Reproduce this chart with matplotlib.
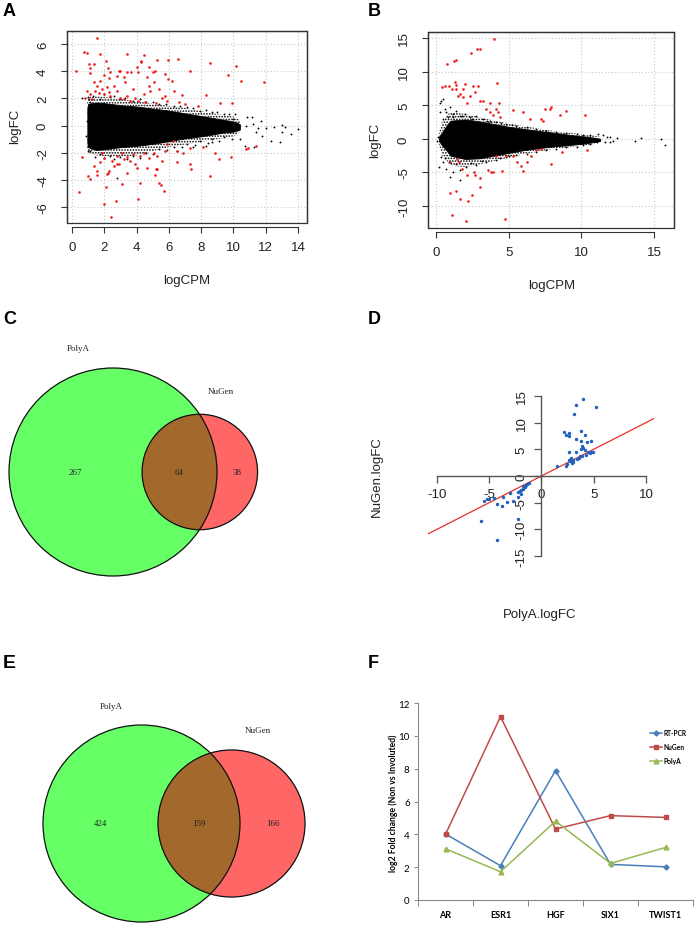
import numpy as np
import matplotlib
matplotlib.use("Agg")
import matplotlib.pyplot as plt
from matplotlib.patches import Circle, Rectangle

plt.rcParams['font.family'] = ['Liberation Sans', 'DejaVu Sans']
plt.rcParams['axes.unicode_minus'] = False
plt.rcParams['hatch.linewidth'] = 0.8

# ---------------- DATA ----------------
# Panel A (MA plot, PolyA): dense core envelope of non-DE genes (solid) and speckled fringe
a_core_x = [0.95, 1.0, 1.5, 2, 3, 4, 5, 6, 7, 8, 8.5, 9, 9.5, 10, 10.4]
a_core_hi = [1.3, 1.6, 1.7, 1.65, 1.5, 1.4, 1.25, 1.1, 0.9, 0.7, 0.6, 0.5, 0.4, 0.3, 0.1]
a_core_lo = [-1.3, -1.6, -1.8, -1.75, -1.6, -1.5, -1.35, -1.15, -0.95, -0.8, -0.7, -0.6, -0.5, -0.45, -0.3]
a_fringe_hi = [1.8, 2.1, 2.15, 2.1, 1.95, 1.8, 1.6, 1.45, 1.3, 1.05, 0.95, 0.85, 0.75, 0.65, 0.4]
a_fringe_lo = [-1.8, -2.0, -2.2, -2.25, -2.3, -2.2, -1.9, -1.6, -1.4, -1.2, -1.1, -1.0, -0.9, -0.8, -0.5]
a_black_pts = [(10.8, -0.02), (11.2, 0.1), (11.5, -0.15), (12.0, -0.15), (12.5, -0.1), (13.0, 0.02),
               (13.2, -0.1), (14.0, -0.27), (12.9, -1.25), (13.55, -0.64), (13.0, -0.5), (12.35, -1.13),
               (11.8, -0.76), (11.4, -0.5), (10.7, -1.5), (11.3, -1.55), (10.85, 0.66), (10.2, 0.17),
               (11.15, 0.66), (11.7, 0.34), (10.0, 0.47), (9.8, -0.5), (10.4, -1.0), (10.1, 0.84),
               (0.6, 2.0), (1.07, 1.94), (1.11, 1.7), (0.95, 0.34), (0.87, -0.76), (1.0, -1.5), (1.1, -1.87),
               (2.76, -3.9), (1.73, 1.94), (2.35, 2.07), (2.97, 1.94), (3.8, 1.82), (4.6, 1.7), (5.4, 1.57),
               (6.3, 1.45), (7.1, 1.33), (7.9, 1.08), (8.7, 0.96), (9.4, 0.84), (1.73, -2.1), (2.35, -2.24),
               (2.97, -2.29), (3.8, -2.24), (4.6, -2.0), (5.4, -1.75), (6.3, -1.55), (7.1, -1.38),
               (7.9, -1.13), (8.7, -0.96), (9.4, -0.81), (8.7, -1.25), (8.3, -1.5), (7.5, -1.6), (6.5, -1.87),
               (1.3, 2.2), (2.0, 2.3), (2.6, 2.2), (3.3, 2.05), (4.2, 1.95), (5.0, 1.75), (5.8, 1.6),
               (6.7, 1.45), (7.5, 1.3), (8.3, 1.15), (9.0, 1.0), (9.7, 0.85), (1.4, -2.3), (2.0, -2.4),
               (2.6, -2.5), (3.4, -2.45), (4.2, -2.4), (5.0, -2.1), (5.9, -1.8), (6.8, -1.6), (7.6, -1.45),
               (8.4, -1.3), (9.1, -1.15), (9.9, -1.0), (0.97, 1.0), (0.97, -1.0), (1.0, 2.1), (1.0, -1.9)]
a_red_pts = [(1.53, 6.44), (0.74, 5.4), (0.95, 5.35), (0.27, 3.98), (1.75, 5.26), (3.38, 5.26), (4.45, 5.2),
             (2.1, 4.77), (4.25, 4.75), (5.28, 4.84), (5.96, 4.84), (6.58, 4.9), (8.54, 4.6), (10.19, 4.4),
             (1.03, 4.52), (1.34, 4.52), (1.13, 4.2), (1.09, 3.9), (2.22, 4.2), (2.34, 3.95), (2.0, 3.7),
             (2.27, 3.5), (2.89, 4.03), (3.0, 4.03), (3.4, 3.91), (3.2, 3.59), (3.65, 3.96), (4.02, 4.28),
             (4.12, 3.96), (4.27, 4.69), (4.64, 3.54), (4.8, 4.28), (5.01, 3.91), (5.17, 4.03), (5.79, 3.83),
             (5.94, 3.42), (6.18, 3.29), (6.8, 2.24), (7.32, 3.98), (9.65, 3.74), (10.5, 3.29), (11.9, 3.24),
             (8.3, 2.24), (9.17, 1.65), (9.9, 1.65), (7.8, 1.45), (1.34, 3.17), (1.55, 2.92), (1.75, 3.29),
             (1.44, 2.56), (1.65, 2.43), (1.85, 2.68), (1.96, 2.31), (2.16, 2.8), (2.27, 2.48), (2.37, 2.19),
             (2.58, 2.92), (2.78, 2.56), (2.99, 2.06), (3.2, 1.94), (3.4, 2.19), (3.61, 1.82), (3.81, 2.68),
             (3.92, 2.06), (4.12, 1.82), (4.43, 2.31), (4.74, 2.92), (4.85, 2.56), (5.05, 3.17), (5.36, 2.68),
             (5.57, 2.06), (5.77, 2.19), (5.87, 1.82), (6.29, 2.56), (0.93, 2.56), (0.82, 2.06), (1.13, 2.31),
             (1.24, 1.94), (2.78, 3.66), (3.3, 3.17), (7.0, 1.6), (6.6, 1.75), (5.2, 1.65), (4.5, 1.75),
             (0.62, -2.29), (0.41, -4.87), (0.97, -3.7), (1.09, -3.95), (1.96, -5.8), (2.43, -6.71),
             (2.74, -5.56), (2.1, -4.52), (3.09, -4.28), (4.06, -5.43), (4.19, -4.25), (5.4, -4.25),
             (5.5, -4.4), (5.67, -4.82), (5.15, -3.64), (5.22, -3.17), (6.49, -2.68), (7.32, -2.85),
             (7.36, -3.17), (8.55, -3.71), (8.86, -2.06), (9.13, -2.48), (9.83, -2.31), (10.9, -1.62),
             (11.4, -1.5), (10.8, -1.74), (1.75, -2.68), (1.96, -2.36), (2.16, -3.59), (2.27, -3.34),
             (2.47, -2.61), (2.58, -2.97), (2.78, -2.24), (2.89, -2.8), (3.09, -1.99), (3.2, -2.48),
             (3.4, -2.31), (3.61, -2.61), (3.81, -2.11), (3.92, -2.85), (4.02, -3.1), (4.23, -2.24),
             (4.43, -1.99), (4.74, -2.36), (5.05, -1.99), (5.26, -2.24), (5.57, -2.61), (5.77, -1.87),
             (6.49, -1.87), (6.9, -1.99), (7.32, -1.62), (8.14, -1.57), (1.55, -3.34), (1.34, -2.97),
             (3.4, -3.47), (4.64, -3.1), (5.26, -3.22), (2.78, -2.85), (1.86, -1.99), (5.87, -1.38),
             (6.28, -1.13), (2.25, -3.47), (1.53, -3.64)]

# Panel B (MA plot, NuGen)
b_core_x = [0.2, 0.4, 0.8, 1, 2, 3, 4, 5, 6, 7, 8, 9, 10, 10.8, 11.3]
b_core_hi = [0.3, 0.9, 2.2, 2.7, 2.9, 2.6, 2.2, 1.8, 1.5, 1.2, 0.95, 0.65, 0.4, 0.2, 0.0]
b_core_lo = [-0.3, -0.9, -1.9, -2.5, -3.0, -2.9, -2.5, -2.1, -1.7, -1.4, -1.15, -0.95, -0.75, -0.5, -0.3]
b_fringe_hi = [0.8, 2.5, 3.6, 4.0, 3.7, 3.2, 2.7, 2.3, 1.9, 1.55, 1.2, 0.95, 0.7, 0.5, 0.3]
b_fringe_lo = [-0.8, -2.5, -3.4, -4.0, -4.2, -3.8, -3.3, -2.8, -2.3, -1.9, -1.55, -1.3, -1.05, -0.8, -0.5]
b_black_pts = [(0.25, 5.4), (0.37, 5.7), (0.48, 5.9), (0.3, 3.96), (0.6, 4.46), (0.71, 3.96), (0.94, 4.7),
               (1.17, 3.7), (1.4, 4.2), (1.63, 3.47), (1.98, 3.7), (2.32, 3.2), (2.78, 3.47), (3.24, 2.97),
               (3.7, 2.72), (4.16, 2.48), (4.85, 2.23), (5.54, 1.98), (6.23, 1.73), (6.91, 1.49),
               (7.6, 1.24), (8.29, 1.09), (8.98, 0.89), (9.67, 0.79), (10.13, 0.64), (10.59, 0.5),
               (11.16, 0.74), (11.5, 0.5), (11.97, 0.25), (12.43, 0.1), (13.7, -0.25), (14.08, 0.1),
               (15.46, 0.0), (15.76, -0.99), (12.2, -0.25), (11.62, -0.4), (11.05, -0.5), (10.59, -0.74),
               (10.13, -0.99), (9.67, -1.24), (8.98, -1.24), (8.29, -1.49), (7.6, -1.73), (6.91, -1.98),
               (6.23, -2.23), (5.54, -2.48), (4.85, -2.72), (4.16, -3.22), (3.47, -3.47), (2.78, -3.96),
               (2.09, -4.2), (1.63, -4.7), (1.17, -4.95), (0.94, -5.69), (0.71, -4.46), (0.48, -3.47),
               (0.37, -2.72), (0.2, -4.2), (1.63, -6.2), (0.07, -0.25), (0.14, 0.25), (0.5, 3.0),
               (0.8, 3.3), (1.2, 3.2), (1.8, 3.4), (2.5, 3.0), (3.5, 2.7), (4.5, 2.4), (5.2, 2.1),
               (0.6, -2.8), (0.9, -3.5), (1.4, -3.8), (2.4, -3.6), (3.2, -3.3), (4.4, -2.9), (5.0, -2.5),
               (11.8, 0.2), (12.0, -0.5)]
b_red_pts = [(4.0, 14.8), (3.0, 13.3), (2.85, 13.3), (2.44, 12.8), (1.36, 11.7), (1.22, 11.6), (0.78, 11.1),
             (0.44, 7.7), (0.6, 7.8), (0.87, 7.9), (1.3, 8.5), (1.36, 8.0), (1.13, 7.4), (1.4, 7.4),
             (1.98, 8.2), (1.86, 7.4), (2.55, 7.9), (2.9, 7.9), (4.23, 8.3), (1.5, 6.4), (1.63, 6.7),
             (1.86, 6.2), (2.32, 6.4), (2.67, 6.9), (2.1, 5.4), (3.0, 5.7), (3.24, 5.7), (3.7, 5.4),
             (4.34, 5.4), (3.47, 4.5), (4.16, 4.5), (4.27, 4.0), (3.7, 4.0), (3.93, 3.5), (4.4, 3.2),
             (5.3, 4.3), (6.0, 4.0), (6.45, 3.0), (7.26, 3.0), (7.37, 2.7), (7.83, 4.5), (8.5, 3.5),
             (8.98, 4.2), (7.9, 4.7), (10.25, 3.5), (7.5, 4.5),
             (0.94, -3.5), (1.45, -3.0), (1.58, -3.5), (2.6, -5.0), (2.66, -5.4), (3.0, -5.9), (3.6, -4.65),
             (3.8, -5.0), (3.93, -5.0), (4.55, -4.8), (3.0, -7.2), (2.1, -5.4), (1.8, -4.5), (0.99, -8.1),
             (1.36, -7.8), (1.68, -8.9), (2.2, -9.2), (2.48, -8.3), (1.1, -11.4), (2.04, -12.2),
             (4.73, -12.0), (5.58, -3.5), (5.88, -4.0), (6.0, -4.85), (6.23, -3.5), (6.57, -2.5),
             (6.91, -1.7), (7.26, -1.5), (7.9, -3.8), (8.64, -2.0), (10.36, -1.7), (4.85, -2.5),
             (5.3, -2.5), (4.16, -2.5)]

# Panel C / E Venn counts
venn_c = {"PolyA only": 267, "both": 64, "NuGen only": 38}
venn_e = {"PolyA only": 424, "both": 159, "NuGen only": 166}
venn_sets = ["PolyA", "NuGen"]

# Panel D (PolyA.logFC vs NuGen.logFC)
d_polya = [4.0, 3.33, 3.07, 5.24, 2.2, 2.3, 2.65, 2.67, 3.8, 4.2, 3.33, 3.8, 4.4, 4.7, 3.9, 4.0, 3.8, 4.2,
           2.66, 3.3, 4.6, 4.75, 4.5, 4.96, 3.7, 3.9, 4.3, 2.8, 3.05, 3.4, 3.6, 2.3, 2.4, 2.6, 2.9, 2.75,
           3.0, 1.5, -5.8, -4.3, -2.2, -5.5, -5.25, -5.0, -4.5, -4.3, -3.8, -3.7, -3.3, -2.7, -2.2,
           -2.22, -2.06, -1.8, -1.74, -1.52, -1.16, -1.96, -1.58, -2.0, -1.4, -3.0]
d_nugen = [14.4, 13.3, 11.6, 12.9, 8.2, 7.6, 8.0, 7.4, 8.4, 7.6, 6.9, 6.5, 6.3, 6.6, 5.7, 5.3, 5.1, 4.9,
           4.4, 4.4, 4.3, 4.5, 4.4, 4.4, 3.7, 3.8, 3.9, 3.3, 2.9, 3.2, 3.4, 1.8, 2.3, 2.9, 2.5, 2.8,
           2.6, 1.8, -8.4, -12.0, -8.1, -4.75, -4.3, -4.4, -4.2, -5.25, -5.6, -3.9, -4.9, -4.75, -4.0,
           -3.06, -2.88, -2.44, -1.81, -1.63, -1.38, -3.38, -2.13, -2.6, -1.5, -3.1]

# Panel F
f_genes = ["AR", "ESR1", "HGF", "SIX1", "TWIST1"]
f_rtpcr = [4.02, 2.09, 7.88, 2.17, 2.02]
f_nugen = [4.0, 11.17, 4.32, 5.14, 5.03]
f_polya = [3.12, 1.72, 4.8, 2.23, 3.2]
f_yticks = [0, 2, 4, 6, 8, 10, 12]

# ---------------- LAYOUT ----------------
W, H = 698, 929
fig = plt.figure(figsize=(W / 100, H / 100), dpi=100)


def rect(x0, y0, x1, y1):
    return [x0 / W, 1 - y1 / H, (x1 - x0) / W, (y1 - y0) / H]


def ftext(x, y, s, **kw):
    fig.text(x / W, 1 - y / H, s, **kw)


def ma_panel(ax, core_x, hi, lo, fhi, flo, black, red, xlim, ylim, xticks, yticks):
    ax.set_xlim(*xlim)
    ax.set_ylim(*ylim)
    ax.grid(True, color='#c8c8c8', linestyle=(0, (1, 2)), linewidth=0.8)
    ax.set_axisbelow(True)
    ax.fill_between(core_x, hi, fhi, facecolor='none', edgecolor='black', hatch='......',
                    linewidth=0, zorder=2)
    ax.fill_between(core_x, flo, lo, facecolor='none', edgecolor='black', hatch='......',
                    linewidth=0, zorder=2)
    ax.fill_between(core_x, lo, hi, color='black', linewidth=0.6, edgecolor='black', zorder=2)
    bx, by = np.array(black).T
    ax.scatter(bx, by, s=1.8, c='black', linewidths=0, zorder=3)
    rx, ry = np.array(red).T
    ax.scatter(rx, ry, s=3.5, c='#ee1c1c', linewidths=0, zorder=4)
    ax.set_xticks(xticks)
    ax.set_yticks(yticks)
    for side in ['top', 'right', 'left']:
        ax.spines[side].set_color('#333333')
        ax.spines[side].set_linewidth(0.9)
    ax.spines['bottom'].set_position(('outward', 3))
    ax.spines['bottom'].set_bounds(xticks[0], xticks[-1])
    ax.spines['bottom'].set_color('#333333')
    ax.add_patch(Rectangle((0, 0), 1, 1, transform=ax.transAxes, fill=False,
                           edgecolor='#333333', linewidth=0.9, zorder=5, clip_on=False))
    ax.tick_params(direction='out', length=4, width=0.8, color='#333333',
                   labelsize=9.5, labelcolor='#222222')
    ax.tick_params(axis='x', pad=6)
    ax.tick_params(axis='y', pad=9)
    for t in ax.get_yticklabels():
        t.set_rotation(90)
        t.set_va('center')


# Panel A
axA = fig.add_axes(rect(67, 32, 307, 224))
ma_panel(axA, a_core_x, a_core_hi, a_core_lo, a_fringe_hi, a_fringe_lo, a_black_pts, a_red_pts,
         (-0.31, 14.56), (-7.18, 6.96), list(range(0, 15, 2)), list(range(-6, 7, 2)))
ftext(187, 281, "logCPM", ha='center', va='center', fontsize=9.5, color='#222222')
ftext(15, 126, "logFC", ha='center', va='center', fontsize=9.5, rotation=90, color='#222222')
ftext(3, 12, "A", ha='left', va='center', fontsize=13, fontweight='bold')

# Panel B
axB = fig.add_axes(rect(428, 33, 674, 229))
ma_panel(axB, b_core_x, b_core_hi, b_core_lo, b_fringe_hi, b_fringe_lo, b_black_pts, b_red_pts,
         (-0.55, 16.38), (-13.27, 15.9), [0, 5, 10, 15], [-10, -5, 0, 5, 10, 15])
ftext(552, 286, "logCPM", ha='center', va='center', fontsize=9.5, color='#222222')
ftext(375, 140, "logFC", ha='center', va='center', fontsize=9.5, rotation=90, color='#222222')
ftext(368, 12, "B", ha='left', va='center', fontsize=13, fontweight='bold')

# Venn panels (pixel-coordinate overlay)
axV = fig.add_axes([0, 0, 1, 1], zorder=-1)
axV.set_xlim(0, W)
axV.set_ylim(H, 0)
axV.axis('off')


def lens_area(r1, r2, d):
    if d >= r1 + r2:
        return 0.0
    if d <= abs(r1 - r2):
        return np.pi * min(r1, r2) ** 2
    a1 = r1 ** 2 * np.arccos((d * d + r1 * r1 - r2 * r2) / (2 * d * r1))
    a2 = r2 ** 2 * np.arccos((d * d + r2 * r2 - r1 * r1) / (2 * d * r2))
    a3 = 0.5 * np.sqrt((-d + r1 + r2) * (d + r1 - r2) * (d - r1 + r2) * (d + r1 + r2))
    return a1 + a2 - a3


def venn(ax, counts, cx, cy, r1, lab1_off, lab2_off):
    n1 = counts["PolyA only"] + counts["both"]
    n2 = counts["NuGen only"] + counts["both"]
    k = r1 / np.sqrt(n1)
    r2 = k * np.sqrt(n2)
    target = counts["both"] / n1 * np.pi * r1 ** 2
    lo_d, hi_d = abs(r1 - r2), r1 + r2
    for _ in range(80):
        mid = 0.5 * (lo_d + hi_d)
        if lens_area(r1, r2, mid) > target:
            lo_d = mid
        else:
            hi_d = mid
    d = 0.5 * (lo_d + hi_d)
    cx2 = cx + d
    c1 = Circle((cx, cy), r1, facecolor='#66ff66', edgecolor='none')
    c2 = Circle((cx2, cy), r2, facecolor='#ff6666', edgecolor='none')
    ax.add_patch(c1)
    ax.add_patch(c2)
    ov = Circle((cx2, cy), r2, facecolor='#a3682b', edgecolor='none')
    ax.add_patch(ov)
    ov.set_clip_path(c1)
    ax.add_patch(Circle((cx, cy), r1, fill=False, edgecolor='#111111', linewidth=0.9))
    ax.add_patch(Circle((cx2, cy), r2, fill=False, edgecolor='#111111', linewidth=0.9))
    tk = dict(ha='center', va='center', fontsize=6.5, family=['Liberation Serif', 'DejaVu Serif'],
              color='#222222')
    ax.text(((cx - r1) + (cx2 - r2)) / 2, cy, str(counts["PolyA only"]), **tk)
    ax.text(((cx2 - r2) + (cx + r1)) / 2, cy, str(counts["both"]), **tk)
    ax.text(((cx + r1) + (cx2 + r2)) / 2, cy, str(counts["NuGen only"]), **tk)
    ax.text(cx + lab1_off[0], cy - r1 + lab1_off[1], venn_sets[0], **tk)
    ax.text(cx2 + lab2_off[0], cy - r2 + lab2_off[1], venn_sets[1], **tk)


venn(axV, venn_c, 113, 473, 104, (-35, -20), (21, -23))
ftext(3, 320, "C", ha='left', va='center', fontsize=13, fontweight='bold')
venn(axV, venn_e, 141.5, 824.5, 98.5, (-30, -19), (26, -20))
ftext(3, 664, "E", ha='left', va='center', fontsize=14, fontweight='bold')

# Panel D
axD = fig.add_axes(rect(428, 390, 654, 565))
axD.set_xlim(-10.86, 10.77)
axD.set_ylim(-16.5, 16.3)
axD.scatter(d_polya, d_nugen, s=6, c='#2061c0', linewidths=0, zorder=3)
axD.axline((0, 0), slope=1, color='#e8302a', linewidth=0.9, zorder=2)
for side in ['top', 'right']:
    axD.spines[side].set_visible(False)
axD.spines['left'].set_position(('data', 0))
axD.spines['bottom'].set_position(('data', 0))
axD.spines['left'].set_bounds(-15, 15)
axD.spines['bottom'].set_bounds(-10, 10)
for side in ['left', 'bottom']:
    axD.spines[side].set_color('#555555')
    axD.spines[side].set_linewidth(1.0)
axD.set_xticks([-10, -5, 0, 5, 10])
axD.set_yticks([-15, -10, -5, 0, 5, 10, 15])
axD.tick_params(direction='out', length=5, width=0.9, color='#555555', labelsize=9.5,
                labelcolor='#222222')
axD.tick_params(axis='x', pad=4)
axD.tick_params(axis='y', pad=5)
for t in axD.get_yticklabels():
    t.set_rotation(90)
    t.set_va('center')
axD.patch.set_alpha(0)
ftext(377, 477, "NuGen.logFC", ha='center', va='center', fontsize=9.5, rotation=90, color='#222222')
ftext(540, 615, "PolyA.logFC", ha='center', va='center', fontsize=9.5, color='#222222')
ftext(368, 320, "D", ha='left', va='center', fontsize=13, fontweight='bold')

# Panel F
fF = ['Lato', 'DejaVu Sans']
axF = fig.add_axes(rect(418, 704, 693, 901))
xs = np.arange(len(f_genes))
axF.plot(xs, f_rtpcr, color='#4a7ebb', linewidth=1.1, marker='D', markersize=2.6, label='RT-PCR')
axF.plot(xs, f_nugen, color='#be4b48', linewidth=1.1, marker='s', markersize=3.2, label='NuGen')
axF.plot(xs, f_polya, color='#98b954', linewidth=1.1, marker='^', markersize=3.4, label='PolyA')
axF.set_xlim(-0.5, len(f_genes) - 0.5)
axF.set_ylim(0, 12)
axF.set_yticks(f_yticks)
axF.set_xticks(xs)
axF.set_xticklabels(f_genes, fontweight='bold', family=fF, fontsize=6.5)
axF.set_xticks(np.arange(len(f_genes) + 1) - 0.5, minor=True)
axF.tick_params(axis='x', which='major', length=0, pad=7)
axF.tick_params(axis='x', which='minor', length=4, width=0.7, color='#888888', direction='out')
axF.tick_params(axis='y', length=3, width=0.7, color='#888888', direction='out', labelsize=7, pad=3)
for t in axF.get_yticklabels():
    t.set_family(fF)
for side in ['top', 'right']:
    axF.spines[side].set_visible(False)
for side in ['left', 'bottom']:
    axF.spines[side].set_color('#888888')
    axF.spines[side].set_linewidth(0.8)
axF.patch.set_alpha(0)
axF.legend(loc='upper left', bbox_to_anchor=(650 / W, 1 - 730 / H), bbox_transform=fig.transFigure,
           frameon=False, prop={'family': fF, 'weight': 'bold', 'size': 4.8}, handlelength=1.8,
           handletextpad=0.3, labelspacing=1.05, borderpad=0, borderaxespad=0)
ftext(393, 803, "log2 Fold change (Non vs Involuted)", ha='center', va='center', fontsize=6.2,
      fontweight='bold', rotation=90, family=fF)
ftext(368, 664, "F", ha='left', va='center', fontsize=13, fontweight='bold')

fig.savefig("out.png", dpi=100)
